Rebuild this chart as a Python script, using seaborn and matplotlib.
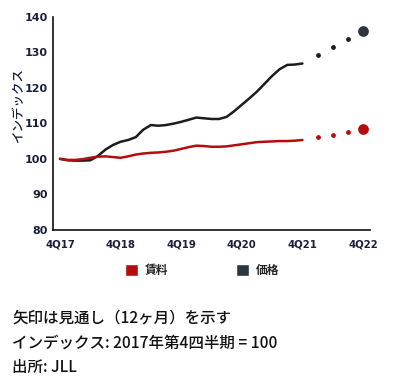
import numpy as np
import pandas as pd
import matplotlib
matplotlib.use("Agg")
import matplotlib.pyplot as plt
import seaborn as sns
from matplotlib.patches import Patch

# quarters since 4Q17 (half-quarter steps for the observed lines)
hist_q = [0, 0.5, 1, 1.5, 2, 2.5, 3, 3.5, 4, 4.5, 5, 5.5, 6, 6.5, 7, 7.5, 8,
          8.5, 9, 9.5, 10, 10.5, 11, 11.5, 12, 12.5, 13, 13.5, 14, 14.5, 15, 15.5, 16]
price_hist = [100.0, 99.6, 99.5, 99.5, 99.6, 100.8, 102.6, 103.9, 104.8, 105.3, 106.1,
              108.2, 109.5, 109.3, 109.5, 109.9, 110.4, 111.0, 111.6, 111.4, 111.2,
              111.2, 111.8, 113.4, 115.2, 117.0, 118.9, 121.1, 123.3, 125.2, 126.4,
              126.5, 126.8]
rent_hist = [100.0, 99.7, 99.7, 99.9, 100.3, 100.6, 100.7, 100.5, 100.3, 100.7, 101.2,
             101.5, 101.7, 101.8, 102.0, 102.3, 102.8, 103.3, 103.7, 103.6, 103.4,
             103.4, 103.5, 103.8, 104.1, 104.4, 104.7, 104.8, 104.9, 105.0, 105.0,
             105.1, 105.3]

# forecast dots (1Q22 .. 4Q22)
fc_q = [17, 18, 19, 20]
price_fc = [129.1, 131.4, 133.7, 136.0]
rent_fc = [106.1, 106.8, 107.6, 108.4]

tick_q = [0, 4, 8, 12, 16, 20]
tick_labels = ["4Q17", "4Q18", "4Q19", "4Q20", "4Q21", "4Q22"]

red = "#b50d0d"
dark = "#1c1c1c"
slate = "#2b3640"
navy = "#1a1f3a"

sns.set_style("white")
plt.rcParams["font.family"] = ["Noto Sans CJK JP", "DejaVu Sans"]

fig = plt.figure(figsize=(4.0, 3.84), dpi=100)
ax = fig.add_axes([0.1325, 0.401, 0.7925, 0.556])

hist = pd.DataFrame({"q": hist_q * 2,
                     "v": price_hist + rent_hist,
                     "s": ["価格"] * len(hist_q) + ["賃料"] * len(hist_q)})
sns.lineplot(data=hist, x="q", y="v", hue="s", palette={"価格": dark, "賃料": red},
             linewidth=1.8, legend=False, ax=ax)

sns.scatterplot(x=fc_q[:3], y=price_fc[:3], color=dark, s=12, linewidth=0, ax=ax)
sns.scatterplot(x=fc_q[:3], y=rent_fc[:3], color=red, s=12, linewidth=0, ax=ax)
sns.scatterplot(x=fc_q[3:], y=price_fc[3:], color=slate, s=60, linewidth=0, ax=ax)
sns.scatterplot(x=fc_q[3:], y=rent_fc[3:], color=red, s=60, linewidth=0, ax=ax)

ax.set_xlim(-0.46, 20.46)
ax.set_ylim(80, 140)
ax.set_xticks(tick_q)
ax.set_xticklabels(tick_labels)
ax.set_yticks(range(80, 141, 10))
ax.tick_params(axis="both", colors=navy, length=3, width=1, direction="out")
for lab in ax.get_yticklabels():
    lab.set_fontfamily("DejaVu Sans")
    lab.set_fontweight("bold")
    lab.set_fontsize(8)
for lab in ax.get_xticklabels():
    lab.set_fontfamily("DejaVu Sans")
    lab.set_fontweight("bold")
    lab.set_fontsize(7.3)
ax.tick_params(axis="x", pad=4)
ax.tick_params(axis="y", pad=1)
ax.set_xlabel("")
ax.set_ylabel("インデックス", fontsize=9, color=navy, fontweight="medium")
ax.yaxis.set_label_coords(-0.088, 0.585)
for side in ["top", "right"]:
    ax.spines[side].set_visible(False)
for side in ["left", "bottom"]:
    ax.spines[side].set_color("#111111")
    ax.spines[side].set_linewidth(1.2)

handles = [Patch(facecolor=red, label="賃料"), Patch(facecolor=slate, label="価格")]
fig.legend(handles=handles, loc="center", bbox_to_anchor=(0.505, 0.295), ncol=2,
           frameon=False, prop={"size": 8.5, "weight": "bold"},
           handlelength=1.1, handleheight=1.15,
           columnspacing=5.7, handletextpad=0.6)

note_style = dict(fontsize=11.2, va="center", color="#111111", fontweight="medium")
fig.text(0.03, 0.172, "矢印は見通し（12ヶ月）を示す", **note_style)
fig.text(0.03, 0.107, "インデックス: 2017年第4四半期 = 100", **note_style)
fig.text(0.03, 0.042, "出所: JLL", **note_style)

fig.savefig("out.png", dpi=100)
